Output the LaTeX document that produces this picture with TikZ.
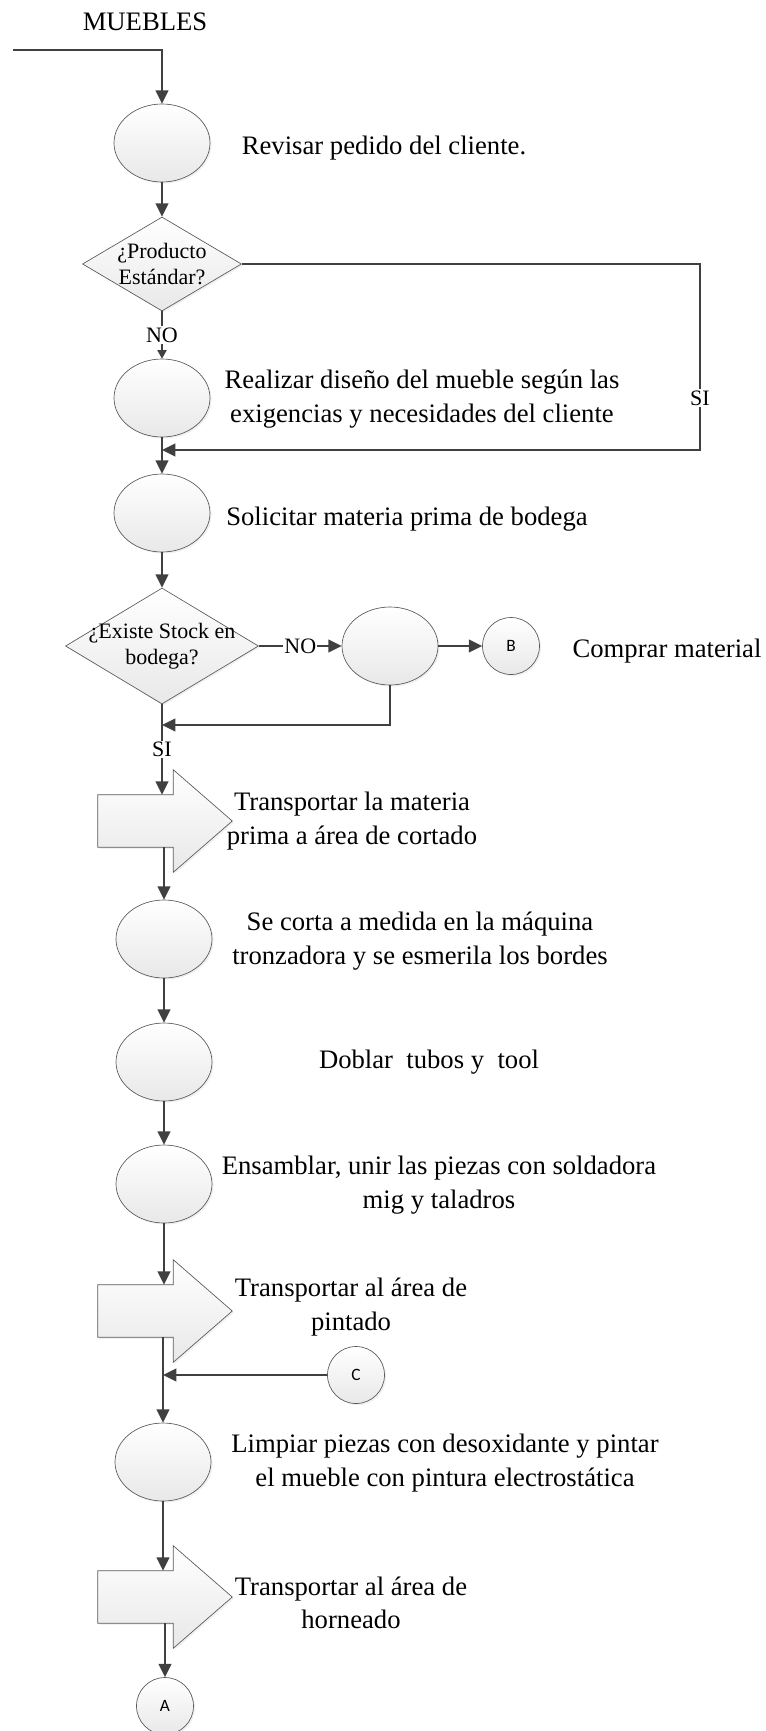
\documentclass[tikz,border=0pt]{standalone}
\usepackage{fontspec}
\setmainfont{Liberation Serif}
\newfontfamily\markfont{Carlito}
\usetikzlibrary{shapes.geometric,arrows.meta,shadows}

\definecolor{flowgray}{HTML}{404040}
\definecolor{rimgray}{HTML}{595959}

\tikzset{
  boxfill/.style={draw=rimgray,line width=0.5pt,top color=white,bottom color=black!9,
    drop shadow={opacity=0.12,shadow xshift=1.2pt,shadow yshift=-1.2pt}},
  operation/.style={ellipse,boxfill,inner sep=0pt,minimum width=72pt,minimum height=58.5pt},
  decision/.style={diamond,boxfill,inner sep=0pt},
  bodyslot/.style={rectangle,inner sep=0pt,minimum width=56.25pt,minimum height=39pt},
  linkmark/.style={circle,boxfill,inner sep=0pt,minimum size=42.75pt,
    font=\markfont\fontsize{13}{13}\selectfont},
  caption/.style={font=\fontsize{20}{25}\selectfont,align=center},
  asktext/.style={font=\fontsize{16.5}{19.5}\selectfont,align=center},
  answer/.style={fill=white,inner sep=1pt,font=\fontsize{16.5}{18}\selectfont},
  flow/.style={draw=flowgray,line width=1.5pt,-{Triangle[width=9.5pt,length=10pt]}},
  flowthin/.style={draw=flowgray,line width=1.1pt,-{Triangle[width=7pt,length=6.5pt]}}
}

\begin{document}
\begin{tikzpicture}[x=0.75pt,y=-0.75pt]
\useasboundingbox (0,0) rectangle (766,1731);

% shapes of the process
\node[operation] (c1) at (162,143) {};
\node[decision,minimum width=119.25pt,minimum height=70.5pt] (d1) at (162,264) {};
\node[operation] (c2) at (162,398) {};
\node[operation] (c3) at (162,513) {};
\node[decision,minimum width=144.75pt,minimum height=87pt] (d2) at (162,646) {};
\node[operation] (c4) at (390,646) {};
\node[linkmark] (mb) at (511,646) {B};
\node[bodyslot] (t1) at (135.5,821) {};
\node[operation] (c5) at (164,939) {};
\node[operation] (c6) at (164,1062) {};
\node[operation] (c7) at (164,1184) {};
\node[bodyslot] (t2) at (135.5,1311) {};
\node[linkmark] (mc) at (356,1375) {C};
\node[operation] (c8) at (163,1462) {};
\node[bodyslot] (t3) at (135.5,1597) {};
\node[linkmark] (ma) at (165,1706) {A};

% transport arrows round their bodies
\foreach \t in {t1,t2,t3}
  \path[boxfill] (\t.south west) -- (\t.north west) -- (\t.north east)
    -- ([yshift=18.75pt]\t.north east) -- ([xshift=44.25pt]\t.east)
    -- ([yshift=-18.75pt]\t.south east) -- (\t.south east) -- cycle;

\coordinate (entry) at (13,50);
\coordinate (r1) at (700,450);
\coordinate (j2) at (162,725);

% texts
\node[caption] (title) at (145,22) {MUEBLES};
\node[caption] (n1) at (384,148) {Revisar pedido del cliente.};
\node[asktext] (q1) at (d1) {¿Producto\\Estándar?};
\node[caption] (n2) at (422,399) {Realizar diseño del mueble según las\\exigencias y necesidades del cliente};
\node[caption] (n3) at (407,519) {Solicitar materia prima de bodega};
\node[asktext] (q2) at (d2) {¿Existe Stock en\\bodega?};
\node[caption] (n4) at (667,651) {Comprar material};
\node[caption] (n5) at (352,821) {Transportar la materia\\prima a área de cortado};
\node[caption] (n6) at (420,941) {Se corta a medida en la máquina\\tronzadora y se esmerila los bordes};
\node[caption] (n7) at (429,1062) {Doblar\ \ tubos y\ \ tool};
\node[caption] (n8) at (439,1185) {Ensamblar, unir las piezas con soldadora\\mig y taladros};
\node[caption] (n9) at (351,1307) {Transportar al área de\\pintado};
\node[caption] (n10) at (445,1463) {Limpiar piezas con desoxidante y pintar\\el mueble con pintura electrostática};
\node[caption] (n11) at (351,1603) {Transportar al área de\\horneado};

% connectors
\draw[flow] (entry) -| (c1);
\draw[flow] (c1) -- (d1);
\draw[flowthin] (d1) -- node[answer] {NO} (c2);
\draw[flow] (d1.east) -| node[answer,pos=0.86] {SI} (r1) -- (r1 -| c2);
\draw[flow] (c2) -- (c3);
\draw[flow] (c3) -- (d2);
\draw[flow] (d2) -- node[answer] {NO} (c4);
\draw[flow] (c4) -- (mb);
\draw[flow] (c4) |- (j2);
\draw[flow] (d2) -- node[answer] {SI} (d2 |- t1.north);
\draw[flow] (c5 |- t1.south) -- (c5);
\draw[flow] (c5) -- (c6);
\draw[flow] (c6) -- (c7);
\draw[flow] (c7) -- (c7 |- t2.north);
\draw[flow] (mc) -- (mc -| c8);
\draw[flow] (c8 |- t2.south) -- (c8);
\draw[flow] (c8) -- (c8 |- t3.north);
\draw[flow] (ma |- t3.south) -- (ma);
\end{tikzpicture}
\end{document}
